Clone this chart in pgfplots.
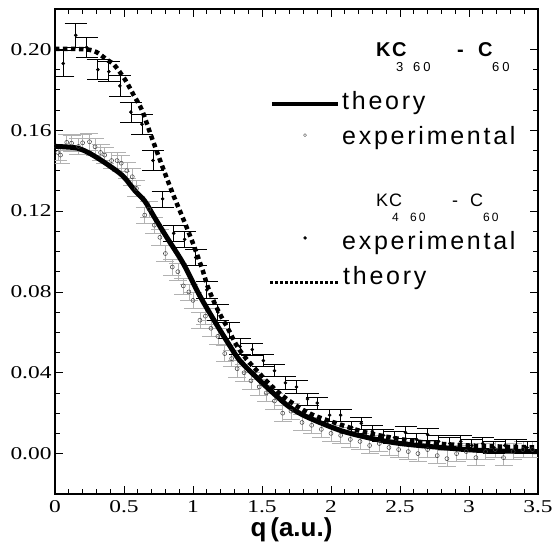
\documentclass[border=0pt]{standalone}
\usepackage{fontspec}
\usepackage{pgfplots}
\usepackage{pgfplotstable}
\pgfplotsset{compat=1.18}
\newfontfamily\tickfont{Liberation Serif}[FakeStretch=1.3]
\newfontfamily\lgfont{Liberation Sans}[LetterSpace=11]
\newfontfamily\labfont{Liberation Sans}

% K3C60 experimental (open circles)
\pgfplotstableread{
x y ey
0.02 0.149 0.004
0.04 0.1477 0.004
0.085 0.154 0.004
0.12 0.1536 0.004
0.17 0.152 0.004
0.20 0.1538 0.004
0.25 0.1543 0.004
0.29 0.1518 0.004
0.33 0.149 0.004
0.36 0.1477 0.004
0.41 0.145 0.004
0.45 0.145 0.004
0.48 0.1437 0.004
0.52 0.140 0.004
0.56 0.137 0.004
0.59 0.1312 0.004
0.65 0.118 0.004
0.68 0.121 0.004
0.72 0.113 0.004
0.76 0.107 0.004
0.80 0.099 0.004
0.85 0.0923 0.004
0.89 0.090 0.004
0.93 0.083 0.004
0.97 0.080 0.004
1.00 0.0758 0.004
1.05 0.066 0.004
1.09 0.068 0.004
1.13 0.062 0.004
1.18 0.058 0.004
1.23 0.0495 0.004
1.28 0.047 0.004
1.32 0.042 0.004
1.37 0.040 0.004
1.42 0.036 0.004
1.48 0.033 0.004
1.53 0.030 0.004
1.59 0.026 0.004
1.65 0.020 0.004
1.71 0.021 0.004
1.79 0.0154 0.004
1.86 0.014 0.004
1.93 0.012 0.004
2.00 0.010 0.004
2.07 0.009 0.004
2.14 0.007 0.004
2.21 0.006 0.004
2.28 0.004 0.004
2.35 0.005 0.004
2.42 0.003 0.004
2.49 0.002 0.004
2.56 0.001 0.004
2.63 0.000 0.004
2.70 0.002 0.004
2.77 -0.001 0.004
2.84 -0.0025 0.004
2.91 0.000 0.004
2.98 0.001 0.004
3.05 -0.002 0.004
3.12 0.001 0.004
3.19 0.002 0.004
3.25 -0.002 0.004
3.32 0.001 0.004
3.39 0.002 0.004
3.46 0.002 0.004
}\kthree

% K4C60 experimental (filled dots)
\pgfplotstableread{
x y ey
0.06 0.193 0.0065
0.15 0.207 0.006
0.23 0.201 0.005
0.31 0.190 0.005
0.39 0.189 0.005
0.47 0.182 0.005
0.55 0.169 0.005
0.63 0.163 0.005
0.71 0.145 0.005
0.78 0.126 0.004
0.86 0.109 0.004
0.94 0.106 0.004
1.02 0.097 0.004
1.10 0.081 0.004
1.18 0.070 0.004
1.26 0.061 0.004
1.34 0.053 0.004
1.43 0.0515 0.003
1.51 0.046 0.003
1.59 0.041 0.003
1.67 0.035 0.003
1.75 0.033 0.003
1.83 0.027 0.003
1.90 0.025 0.003
1.99 0.019 0.003
2.07 0.019 0.003
2.15 0.013 0.003
2.22 0.015 0.003
2.30 0.011 0.003
2.38 0.009 0.003
2.46 0.008 0.003
2.54 0.0104 0.003
2.62 0.007 0.003
2.70 0.0094 0.003
2.78 0.006 0.003
2.86 0.005 0.003
2.94 0.006 0.003
3.02 0.004 0.003
3.10 0.005 0.003
3.18 0.003 0.003
3.26 0.004 0.003
3.34 0.004 0.003
3.42 0.003 0.003
}\kfour

\begin{document}
\begin{tikzpicture}
\useasboundingbox (-55pt,-55pt) rectangle (499pt,494pt);
\begin{axis}[
  at={(0pt,0pt)}, anchor=south west,
  scale only axis, width=483pt, height=485pt,
  xmin=0, xmax=3.5, ymin=-0.02, ymax=0.22,
  xtick={0,0.5,1,1.5,2,2.5,3,3.5}, minor x tick num=4,
  ytick={0,0.04,0.08,0.12,0.16,0.2}, minor y tick num=3,
  major tick length=8pt, minor tick length=5pt,
  tick style={black, line width=0.8pt},
  axis line style={line width=1.2pt},
  /pgf/number format/assume math mode=true,
  xticklabel style={font=\tickfont\fontsize{18}{18}\selectfont, yshift=-3pt},
  yticklabel style={font=\tickfont\fontsize{18}{18}\selectfont,
    /pgf/number format/.cd, fixed, fixed zerofill, precision=2},
]
% K3C60 experimental
\addplot[only marks, mark=o, mark size=2pt, gray!50!black, mark options={line width=0.5pt},
  error bars/.cd, y dir=both, y explicit, error mark=|,
  error bar style={gray!60, line width=0.5pt},
  error mark options={gray!60, mark size=9pt, line width=0.5pt}]
  table[x=x, y=y, y error=ey] {\kthree};
% K4C60 experimental
\addplot[only marks, mark=*, mark size=1.6pt, black,
  error bars/.cd, y dir=both, y explicit, error mark=|,
  error bar style={black, line width=0.7pt},
  error mark options={black, mark size=11pt, line width=0.7pt}]
  table[x=x, y=y, y error=ey] {\kfour};
% K3C60 theory (solid)
\addplot[black, line width=5pt, smooth, no marks] coordinates {
(0,0.152) (0.15,0.1513) (0.24,0.149) (0.36,0.144) (0.49,0.1375) (0.58,0.130)
(0.65,0.125) (0.72,0.117) (0.81,0.107) (0.93,0.094) (1.05,0.078) (1.17,0.064)
(1.27,0.053) (1.34,0.046) (1.46,0.0377) (1.58,0.030) (1.70,0.023) (1.83,0.018)
(2.07,0.0114) (2.30,0.0074) (2.5,0.005) (2.8,0.003) (3.1,0.0015) (3.5,0.001)
};
% K4C60 theory (dashed)
\addplot[black, line width=4.5pt, smooth, no marks, dash pattern=on 4.5pt off 3.5pt] coordinates {
(0,0.2002) (0.1,0.2003) (0.23,0.2000) (0.30,0.1987) (0.38,0.1947) (0.43,0.1923)
(0.51,0.1848) (0.57,0.1774) (0.63,0.170) (0.70,0.1566) (0.78,0.1417) (0.86,0.1275)
(0.93,0.116) (1.0,0.104) (1.07,0.0907) (1.11,0.082) (1.18,0.071) (1.26,0.061)
(1.30,0.0555) (1.34,0.051) (1.41,0.045) (1.56,0.034) (1.66,0.028) (1.78,0.0223)
(1.88,0.0188) (2.04,0.015) (2.28,0.010) (2.64,0.0058) (3.0,0.004) (3.5,0.003)
};
% legend samples
\addplot[black, line width=4.5pt, no marks, forget plot] coordinates {(1.572,0.1730) (2.051,0.1730)};
\addplot[only marks, mark=o, mark size=1.5pt, gray!50!black, forget plot] coordinates {(1.812,0.1576)};
\addplot[only marks, mark=*, mark size=1.5pt, black, forget plot] coordinates {(1.812,0.1067)};
\addplot[black, line width=3pt, no marks, dash pattern=on 3pt off 2pt, forget plot] coordinates {(1.558,0.0849) (2.051,0.0849)};
\end{axis}
% legend texts
\begin{scope}[every node/.style={anchor=base west, inner sep=0pt}]
\node[font=\lgfont\fontsize{25}{25}\selectfont] at (287pt,384pt) {theory};
\node[font=\lgfont\fontsize{25}{25}\selectfont] at (287pt,349pt) {experimental};
\node[font=\lgfont\fontsize{25}{25}\selectfont] at (287pt,244pt) {experimental};
\node[font=\lgfont\fontsize{25}{25}\selectfont] at (288pt,209pt) {theory};
% title 1
\node[font=\lgfont\bfseries\fontsize{20}{20}\selectfont] at (321pt,437pt) {K};
\node[font=\lgfont\bfseries\fontsize{20}{20}\selectfont] at (337pt,437pt) {C};
\node[font=\lgfont\bfseries\fontsize{20}{20}\selectfont] at (402pt,437pt) {-};
\node[font=\lgfont\bfseries\fontsize{20}{20}\selectfont] at (423pt,437pt) {C};
\node[font=\lgfont\fontsize{13}{13}\selectfont] at (341pt,422pt) {3};
\node[font=\lgfont\fontsize{13}{13}\selectfont] at (358pt,422pt) {6\hspace{3pt}0};
\node[font=\lgfont\fontsize{13}{13}\selectfont] at (437pt,422pt) {6\hspace{3pt}0};
% title 2
\node[font=\lgfont\fontsize{18}{18}\selectfont] at (321pt,287pt) {K};
\node[font=\lgfont\fontsize{18}{18}\selectfont] at (334pt,287pt) {C};
\node[font=\lgfont\fontsize{18}{18}\selectfont] at (397pt,287pt) {-};
\node[font=\lgfont\fontsize{18}{18}\selectfont] at (415pt,287pt) {C};
\node[font=\lgfont\fontsize{12}{12}\selectfont] at (337pt,272pt) {4};
\node[font=\lgfont\fontsize{12}{12}\selectfont] at (355pt,272pt) {6\hspace{2pt}0};
\node[font=\lgfont\fontsize{12}{12}\selectfont] at (428pt,272pt) {6\hspace{2pt}0};
\end{scope}
\node[anchor=base, inner sep=0pt, font=\labfont\bfseries\fontsize{26}{26}\selectfont] at (236.5pt,-42pt) {q\hspace{4pt}(a.u.)};
\end{tikzpicture}
\end{document}
